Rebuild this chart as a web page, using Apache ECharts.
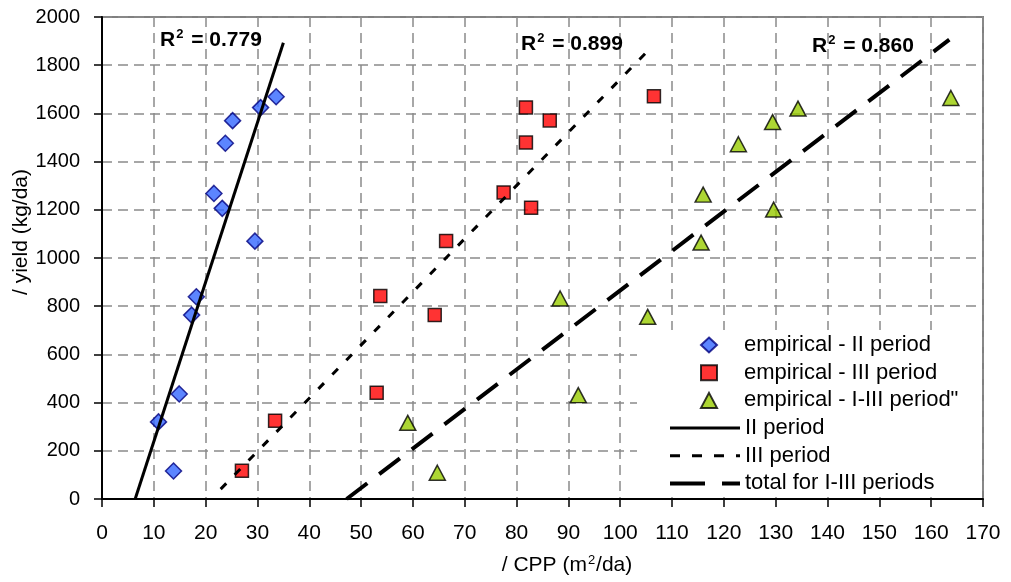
<!DOCTYPE html>
<html><head><meta charset="utf-8">
<script src="https://cdn.jsdelivr.net/npm/echarts@6/dist/echarts.min.js"></script>
<style>html,body{margin:0;padding:0;background:#fff}#c{width:1011px;height:582px}</style>
</head><body><div id="c"></div>
<script>
// CPP (m2/da) and yield (kg/da)
const cppII   = [10.9, 13.8, 14.9, 17.3, 18.2, 21.6, 23.2, 23.8, 25.2, 29.5, 30.6, 33.6];
const yieldII = [320, 116, 436, 763, 839, 1268, 1206, 1476, 1570, 1070, 1624, 1669];
const cppIII   = [81.8, 86.4, 81.8, 106.5, 77.5, 82.8, 53.7, 64.2, 53.0, 33.4, 27.0, 66.4];
const yieldIII = [1625, 1571, 1479, 1671, 1272, 1209, 842, 763, 441, 325, 117, 1071];
const cppAll   = [88.4, 105.3, 91.9, 59.0, 64.7, 122.8, 129.4, 134.3, 116.0, 129.6, 115.6, 163.8];
const yieldAll = [832, 756, 431, 316, 109, 1472, 1564, 1620, 1263, 1201, 1064, 1664];
// trend line end points
const trendIIx = [6.4, 35.0],  trendIIy = [0, 1893];
const trendIIIx = [22.9, 104.8], trendIIIy = [41, 1848];
const trendAllx = [47.2, 163.5], trendAlly = [0, 1906];
const names = ['empirical - II period', 'empirical - III period', 'empirical - I-III period"', 'II period', 'III period', 'total for I-III periods'];
const r2Labels = ['0.779', '0.899', '0.860'];

const zip = (a, b) => a.map((v, i) => [v, b[i]]);
const FONT = "'Liberation Sans', Arial, sans-serif";
const chart = echarts.init(document.getElementById('c'));
const gridDash = { color: '#8a8a8a', width: 1.5, type: [10, 6] };
const supRich = {
  b: { fontFamily: FONT, fontSize: 21, fontWeight: 'bold', color: '#000' },
  s: { fontFamily: FONT, fontSize: 13, fontWeight: 'bold', color: '#000', verticalAlign: 'top', padding: [0, 2, 12, 1] }
};
function r2(x, y, v) {
  return { type: 'text', left: x, top: y, z: 100,
    style: { text: '{b|R}{s|2}{b| = ' + v + '}', rich: supRich } };
}
const legendText = { fontSize: 22, lineHeight: 22, fontFamily: FONT, color: '#000' };
const hideSym = { opacity: 0, borderWidth: 0 };
chart.setOption({
  animation: false,
  backgroundColor: '#fff',
  grid: { left: 102, right: 28, top: 17, bottom: 83, show: true, borderColor: '#808080', borderWidth: 2, backgroundColor: 'transparent' },
  xAxis: {
    type: 'value', min: 0, max: 170, interval: 10,
    axisLine: { show: true, onZero: false, lineStyle: { color: '#000', width: 2 } },
    axisTick: { show: true, inside: false, length: 8, lineStyle: { color: '#000', width: 1.5 } },
    axisLabel: { margin: 24, fontSize: 21, fontFamily: FONT, color: '#000', formatter: v => String(v) },
    splitLine: { show: true, lineStyle: gridDash }
  },
  yAxis: {
    type: 'value', min: 0, max: 2000, interval: 200,
    axisLine: { show: true, onZero: false, lineStyle: { color: '#000', width: 2 } },
    axisTick: { show: true, inside: false, length: 8, lineStyle: { color: '#000', width: 1.5 } },
    axisLabel: { margin: 22, fontSize: 20, fontFamily: FONT, color: '#000', formatter: v => String(v) },
    splitLine: { show: true, lineStyle: gridDash }
  },
  legend: [
    { orient: 'vertical', left: 700, top: 334, padding: 0,
      itemWidth: 16, itemHeight: 15, itemGap: 5.7, symbolKeepAspect: true,
      textStyle: Object.assign({ padding: [0, 0, 0, 22] }, legendText),
      data: [names[0], names[1], names[2]] },
    { orient: 'vertical', left: 668, top: 417, padding: 0,
      itemWidth: 70, itemHeight: 15, itemGap: 5.7,
      textStyle: legendText,
      data: [
        { name: names[3], itemStyle: hideSym, lineStyle: { width: 3, type: 'solid' } },
        { name: names[4], itemStyle: hideSym, lineStyle: { width: 3, type: [10, 12] } },
        { name: names[5], itemStyle: hideSym, lineStyle: { width: 4, type: [35, 17] } }
      ] }
  ],
  graphic: [
    { type: 'rect', shape: { x: 637, y: 330, width: 345, height: 167 }, z: 3, silent: true,
      style: { fill: '#fff', stroke: null } },
    r2(160, 28, r2Labels[0]),
    r2(521, 32, r2Labels[1]),
    r2(812, 34, r2Labels[2]),
    { type: 'text', x: 21, y: 232, rotation: Math.PI / 2, z: 100,
      style: { text: '/ yield (kg/da)', fontFamily: FONT, fontSize: 21, fill: '#000', align: 'center', verticalAlign: 'middle' } },
    { type: 'text', x: 567, y: 565, z: 100,
      style: { text: '{n|/ CPP (m}{s|2}{n|/da)}', align: 'center', verticalAlign: 'middle',
        rich: { n: { fontFamily: FONT, fontSize: 21, color: '#000' },
                s: { fontFamily: FONT, fontSize: 13, color: '#000', verticalAlign: 'top', padding: [0, 1, 10, 1] } } } }
  ],
  series: [
    { name: names[0], type: 'scatter', data: zip(cppII, yieldII), symbol: 'diamond', symbolSize: 16,
      itemStyle: { color: '#3366FF', borderColor: '#000080', borderWidth: 1.5 } },
    { name: names[1], type: 'scatter', data: zip(cppIII, yieldIII), symbol: 'rect', symbolSize: 13,
      itemStyle: { color: '#FF0000', borderColor: '#000', borderWidth: 1.5 } },
    { name: names[2], type: 'scatter', data: zip(cppAll, yieldAll), symbol: 'triangle', symbolSize: [16, 15],
      itemStyle: { color: '#99CC00', borderColor: '#000', borderWidth: 1.5 } },
    { name: names[3], type: 'line', data: zip(trendIIx, trendIIy), symbol: 'none', silent: true,
      itemStyle: { color: '#000' }, lineStyle: { color: '#000', width: 3, type: 'solid' } },
    { name: names[4], type: 'line', data: zip(trendIIIx, trendIIIy), symbol: 'none', silent: true,
      itemStyle: { color: '#000' }, lineStyle: { color: '#000', width: 3, type: [8, 12] } },
    { name: names[5], type: 'line', data: zip(trendAllx, trendAlly), symbol: 'none', silent: true,
      itemStyle: { color: '#000' }, lineStyle: { color: '#000', width: 4, type: [26, 15] } }
  ]
});
</script></body></html>
